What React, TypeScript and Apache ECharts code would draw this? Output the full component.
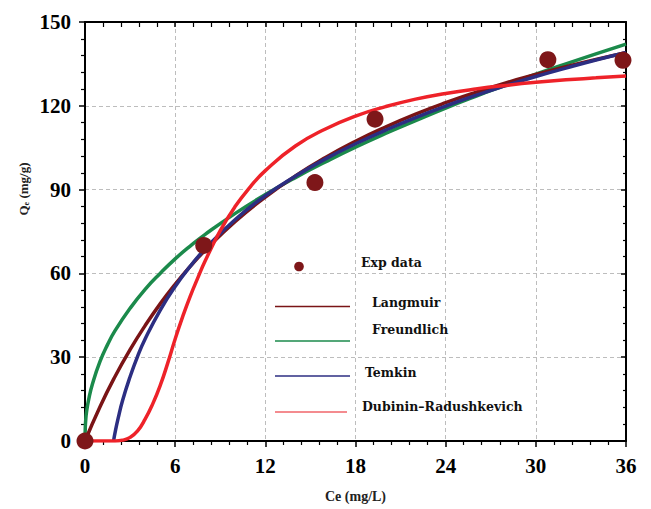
import React, { useEffect, useRef } from "react";
import * as echarts from "echarts";

// Experimental data
const expX = [0, 7.9, 15.3, 19.3, 30.8, 35.8];
const expY = [0, 70, 92.5, 115.2, 136.5, 136.3];

// Freundlich fit
const freundX = [0, 0.02, 0.05, 0.1, 0.25, 0.5, 1, 1.5, 2, 3, 4, 5, 6, 7, 8, 10, 12, 14, 16, 18, 20, 22, 24, 26, 28, 30, 32, 34, 36];
const freundY = [0, 5, 7.6, 10.3, 15, 20.5, 28.5, 34.5, 39.5, 47.5, 54.3, 60, 65.2, 69.8, 74, 81.5, 88.2, 94.3, 99.9, 105.2, 110.1, 114.7, 119.2, 123.4, 127.4, 131.3, 135, 138.6, 142.1];

// Langmuir fit
const langX = [0, 1, 2, 3, 4, 5, 6, 7, 8, 10, 12, 14, 16, 18, 20, 22, 24, 26, 28, 30, 32, 34, 36];
const langY = [0, 12.3, 23.1, 32.7, 41.3, 49.1, 56.1, 62.5, 68.3, 78.6, 87.3, 94.9, 101.5, 107.3, 112.4, 117, 121.1, 124.8, 128.2, 131.2, 134, 136.6, 139];

// Temkin fit
const temkX = [1.9, 2, 2.2, 2.5, 3, 3.5, 4, 5, 6, 7, 8, 10, 12, 14, 16, 18, 20, 22, 24, 26, 28, 30, 32, 34, 36];
const temkY = [0, 3, 8, 14.5, 23, 30.3, 36.5, 46.8, 55.3, 62.5, 68.8, 79.3, 87.8, 94.8, 101, 106.4, 111.3, 115.8, 119.9, 123.7, 127.2, 130.5, 133.5, 136.4, 139.1];

// Dubinin-Radushkevich fit
const drX = [0, 1, 2, 2.5, 3, 3.5, 4, 4.5, 5, 5.5, 6, 6.5, 7, 7.5, 8, 9, 10, 11, 12, 14, 16, 18, 20, 22, 24, 26, 28, 30, 32, 34, 36];
const drY = [0, 0, 0, 0.3, 1.3, 3.6, 7.8, 13.2, 19.8, 27.8, 36.5, 44.5, 51.8, 58.3, 64.5, 75.3, 84, 91, 96.8, 105.6, 111.7, 116.3, 119.7, 122.4, 124.4, 126, 127.3, 128.4, 129.3, 130, 130.7];

const xTicks = [0, 6, 12, 18, 24, 30, 36];
const yTicks = [0, 30, 60, 90, 120, 150];

const legendNames = ["Exp data", "Langmuir", "Freundlich", "Temkin", "Dubinin\u2013Radushkevich"];

const C_EXP = "#7E1719";
const C_LANG = "#7A1416";
const C_FREU = "#1B8A4B";
const C_TEMK = "#2C2E82";
const C_DR = "#EE2229";

const pairs = (xs: number[], ys: number[]) => xs.map((x, i) => [x, ys[i]]);

export default function App() {
  const ref = useRef<HTMLDivElement>(null);
  useEffect(() => {
    if (!ref.current) return;
    document.body.style.margin = "0";
    const chart = echarts.init(ref.current, null, { renderer: "svg" });
    const tickFont = {
      fontFamily: "Liberation Serif",
      fontWeight: "bold" as const,
      fontSize: 21,
      color: "#000",
    };
    const baseX = {
      type: "value" as const,
      min: xTicks[0],
      max: xTicks[xTicks.length - 1],
      interval: 6,
    };
    const baseY = {
      type: "value" as const,
      min: yTicks[0],
      max: yTicks[yTicks.length - 1],
      interval: 30,
    };
    const legFont = {
      fontFamily: "DejaVu Serif",
      fontWeight: "bold",
      fontSize: 12.5,
      fill: "#111",
      align: "left",
      verticalAlign: "middle",
      textAlign: "left",
      textVerticalAlign: "middle",
    };
    const legLine = (y: number, color: string, x2 = 350) => ({
      type: "line",
      shape: { x1: 275, y1: y, x2, y2: y },
      style: { stroke: color, lineWidth: 1.5 },
      z: 100,
    });
    const legText = (x: number, y: number, t: string) => ({
      type: "text",
      x,
      y,
      style: { ...legFont, text: t },
      z: 100,
    });
    const lineSeries = (name: string, xs: number[], ys: number[], color: string, z: number) => ({
      name,
      type: "line",
      data: pairs(xs, ys),
      showSymbol: false,
      smooth: true,
      lineStyle: { color, width: 3.5 },
      z,
    });
    chart.setOption({
      animation: false,
      backgroundColor: "#fff",
      grid: { left: 85, right: 25, top: 22, bottom: 68, containLabel: false },
      xAxis: [
        {
          ...baseX,
          position: "bottom",
          name: "Ce (mg/L)",
          nameLocation: "middle",
          nameGap: 48,
          nameTextStyle: { fontFamily: "Liberation Serif", fontWeight: "bold", fontSize: 14, color: "#222" },
          axisLine: { show: true, onZero: false, lineStyle: { color: "#000", width: 2 } },
          axisTick: { show: true, inside: false, length: 6, lineStyle: { color: "#000", width: 1.5 } },
          minorTick: { show: true, splitNumber: 5, length: 4, lineStyle: { color: "#000", width: 1.2 } },
          axisLabel: { ...tickFont, margin: 14 },
          splitLine: { show: true, lineStyle: { color: "#bdbdbd", type: [4, 3], width: 1 } },
          minorSplitLine: { show: false },
        },
        {
          ...baseX,
          position: "top",
          axisLine: { show: true, onZero: false, lineStyle: { color: "#000", width: 2 } },
          axisTick: { show: true, inside: true, length: 5, lineStyle: { color: "#000", width: 1.5 } },
          minorTick: { show: true, splitNumber: 5, length: 5, lineStyle: { color: "#000", width: 1.2 } },
          axisLabel: { show: false },
          splitLine: { show: false },
        },
      ],
      yAxis: [
        {
          ...baseY,
          position: "left",
          axisLine: { show: true, onZero: false, lineStyle: { color: "#000", width: 2 } },
          axisTick: { show: true, inside: false, length: 6, lineStyle: { color: "#000", width: 1.5 } },
          minorTick: { show: true, splitNumber: 5, length: 4, lineStyle: { color: "#000", width: 1.2 } },
          axisLabel: { ...tickFont, margin: 14 },
          splitLine: { show: true, lineStyle: { color: "#bdbdbd", type: [4, 3], width: 1 } },
        },
        {
          ...baseY,
          position: "right",
          axisLine: { show: true, onZero: false, lineStyle: { color: "#000", width: 2 } },
          axisTick: { show: true, inside: true, length: 5, lineStyle: { color: "#000", width: 1.5 } },
          minorTick: { show: true, splitNumber: 5, length: 3, lineStyle: { color: "#000", width: 1.2 } },
          axisLabel: { show: false },
          splitLine: { show: false },
        },
      ],
      series: [
        lineSeries(legendNames[2], freundX, freundY, C_FREU, 2),
        lineSeries(legendNames[1], langX, langY, C_LANG, 3),
        lineSeries(legendNames[3], temkX, temkY, C_TEMK, 4),
        lineSeries(legendNames[4], drX, drY, C_DR, 5),
        {
          name: legendNames[0],
          type: "scatter",
          data: pairs(expX, expY),
          symbolSize: 17,
          itemStyle: { color: C_EXP, opacity: 1 },
          z: 6,
        },
      ],
      graphic: [
        {
          type: "text",
          x: 22,
          y: 189,
          rotation: Math.PI / 2,
          style: {
            text: "{q|Q}{s|e}{q| (mg/g)}",
            align: "center",
            verticalAlign: "middle",
            textAlign: "center",
            textVerticalAlign: "middle",
            rich: {
              q: { fontFamily: "Liberation Serif", fontWeight: "bold", fontSize: 13, fill: "#222", color: "#222", lineHeight: 16, verticalAlign: "bottom" },
              s: { fontFamily: "Liberation Serif", fontWeight: "bold", fontSize: 8, fill: "#222", color: "#222", lineHeight: 16, verticalAlign: "bottom", padding: [5, 0, 0, 0] },
            },
          },
          z: 100,
        },
        { type: "circle", shape: { cx: 299, cy: 266.5, r: 4.8 }, style: { fill: C_EXP }, z: 100 },
        legText(361, 262.5, legendNames[0]),
        legLine(306.5, C_LANG),
        legText(372, 302, legendNames[1]),
        legLine(341, C_FREU),
        legText(372, 329, legendNames[2]),
        legLine(376, C_TEMK),
        legText(365, 372, legendNames[3]),
        legLine(412, "#F0656A", 347),
        legText(362, 406.5, legendNames[4]),
      ],
    });
    return () => chart.dispose();
  }, []);
  return <div ref={ref} style={{ width: 651, height: 509, position: "fixed", left: 0, top: 0 }} />;
}
